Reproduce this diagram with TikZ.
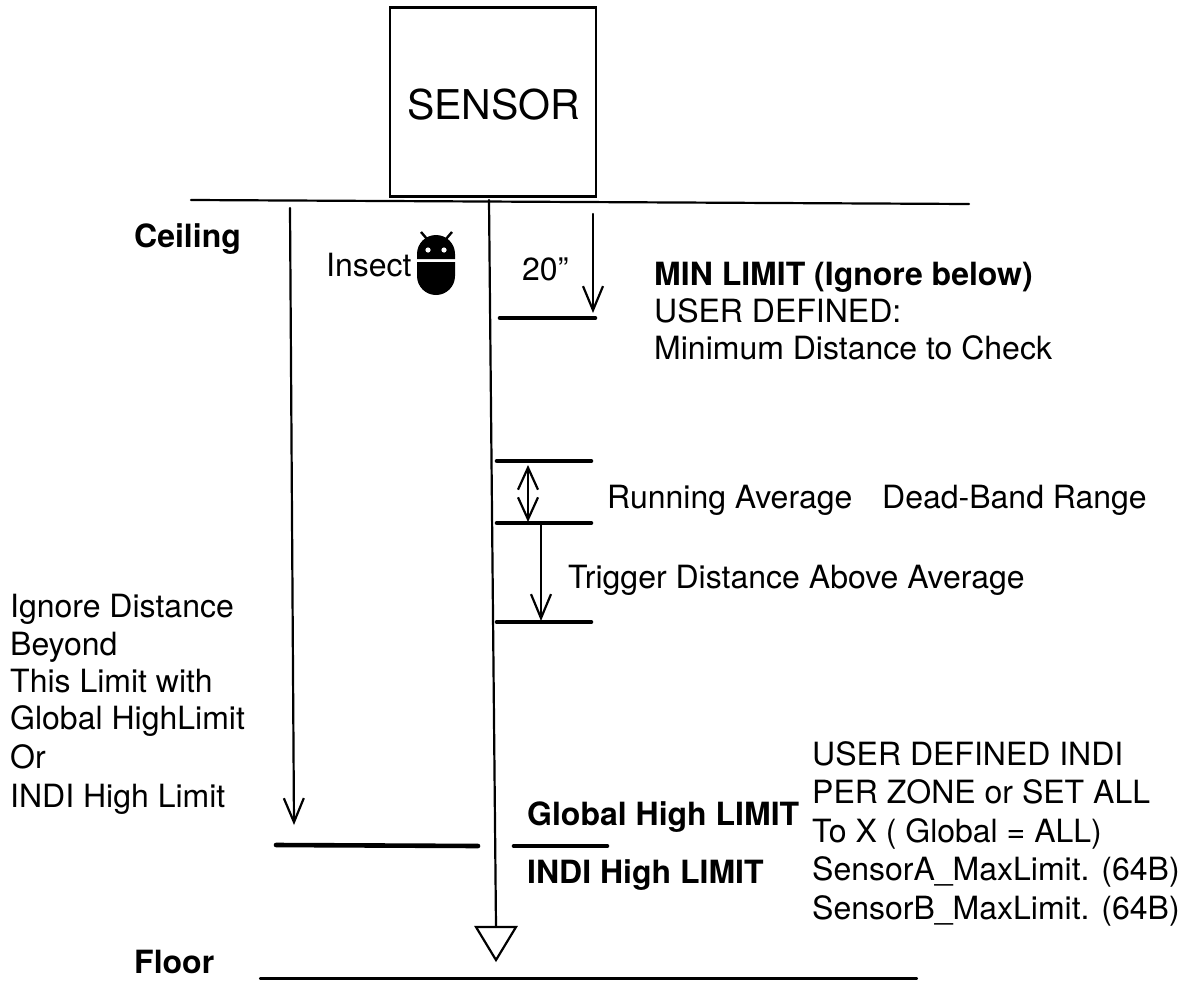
\documentclass[tikz,border=0pt]{standalone}
\usepackage{fontspec}
\setmainfont{TeX Gyre Heros}
\usetikzlibrary{arrows.meta}
\tikzset{
  lbl/.style={anchor=base west,inner sep=0pt,font=\fontsize{32}{38}\selectfont,align=left},
  blbl/.style={lbl,font=\fontsize{32}{38}\selectfont\bfseries},
  thin line/.style={line width=2.2pt,line cap=round},
  thick bar/.style={line width=4.6pt,line cap=round},
  barb/.style={thin line,-{Straight Barb[length=24pt,width=20pt,line width=2.2pt]}},
  dbarb/.style={thin line,{Straight Barb[length=22pt,width=20pt,line width=2.2pt]}-{Straight Barb[length=22pt,width=20pt,line width=2.2pt]}}
}
\begin{document}
\begin{tikzpicture}[x=1pt,y=-1pt]
\useasboundingbox (0,0) rectangle (1186,980);
% sensor box
\node (sensor) [draw,line width=2.2pt,minimum width=206pt,minimum height=189pt,inner sep=0pt,font=\fontsize{41}{48}\selectfont] at (493,102) {};
\node (sensorlabel) [lbl,font=\fontsize{41}{48}\selectfont] at (407,119) {SENSOR};
% coordinates
\coordinate (ceilL) at (191,200); \coordinate (ceilR) at (969,204);
\coordinate (floorL) at (260,978.5); \coordinate (floorR) at (917,978.5);
\coordinate (mainT) at (489,200); \coordinate (mainB) at (496,927);
\coordinate (triL) at (476,927); \coordinate (triR) at (516,927); \coordinate (triB) at (496,960);
\coordinate (leftT) at (290,208); \coordinate (leftB) at (294,825);
\coordinate (minT) at (593,214); \coordinate (minB) at (593,313);
\coordinate (minL) at (500,318); \coordinate (minR) at (595,318);
\coordinate (b1L) at (497,461); \coordinate (b1R) at (591,461);
\coordinate (b2L) at (497,523); \coordinate (b2R) at (591,523);
\coordinate (b3L) at (497,622); \coordinate (b3R) at (591,622);
\coordinate (dbT) at (528,465); \coordinate (dbB) at (528,522);
\coordinate (trT) at (541,525); \coordinate (trB) at (541,621);
\coordinate (g1L) at (276,845); \coordinate (g1R) at (478,846);
\coordinate (g2L) at (514,846); \coordinate (g2R) at (607,846);
% lines
\draw[thin line] (ceilL) -- (ceilR);
\draw[thin line] (floorL) -- (floorR);
\draw[thin line] (mainT) -- (mainB);
\draw[thin line,line join=miter] (triL) -- (triR) -- (triB) -- cycle;
\draw[barb] (leftT) -- (leftB);
\draw[barb] (minT) -- (minB);
\draw[dbarb] (dbT) -- (dbB);
\draw[barb] (trT) -- (trB);
\foreach \a/\b in {minL/minR,b1L/b1R,b2L/b2R,b3L/b3R,g1L/g1R,g2L/g2R}
  \draw[thick bar] (\a) -- (\b);
% insect icon
\fill (417,259) -- (417,254) arc[start angle=180,end angle=360,x radius=19,y radius=19] -- (455,259) -- cycle;
\fill (417,262) -- (455,262) -- (455,276) arc[start angle=0,end angle=180,x radius=19,y radius=19] -- cycle;
\fill[white] (428,250) circle (2.6) (444,250) circle (2.6);
\draw[line width=2.4pt] (421,232) -- (427,239) (452,232) -- (446,239);
% texts
\node (ceiling) [blbl] at (134,247) {Ceiling};
\node (floor) [blbl] at (134,973) {Floor};
\node (insect) [lbl] at (326,276) {Insect};
\node (twenty) [lbl] at (522,280) {20”};
\node (minlimit) [blbl] at (654,285) {MIN LIMIT (Ignore below)};
\node (userdef) [lbl] at (654,322) {USER DEFINED:};
\node (mindist) [lbl] at (654,359) {Minimum Distance to Check};
\node (running) [lbl] at (607,508) {Running Average};
\node (deadband) [lbl] at (882,508) {Dead-Band Range};
\node (trigger) [lbl] at (568,588) {Trigger Distance Above Average};
\node (ign1) [lbl] at (10,617) {Ignore Distance};
\node (ign2) [lbl] at (10,655) {Beyond};
\node (ign3) [lbl] at (10,692) {This Limit with};
\node (ign4) [lbl] at (10,729) {Global HighLimit};
\node (ign5) [lbl] at (10,768) {Or};
\node (ign6) [lbl] at (10,807) {INDI High Limit};
\node (global) [blbl] at (527,825) {Global High LIMIT};
\node (indi) [blbl] at (527,883) {INDI High LIMIT};
\node (u1) [lbl] at (812,765) {USER DEFINED INDI};
\node (u2) [lbl] at (812,803) {PER ZONE or SET ALL};
\node (u3) [lbl] at (812,842) {To X ( Global = ALL)};
\node (u4) [lbl] at (812,880) {SensorA\_MaxLimit. (64B)};
\node (u5) [lbl] at (812,919) {SensorB\_MaxLimit. (64B)};
\end{tikzpicture}
\end{document}
